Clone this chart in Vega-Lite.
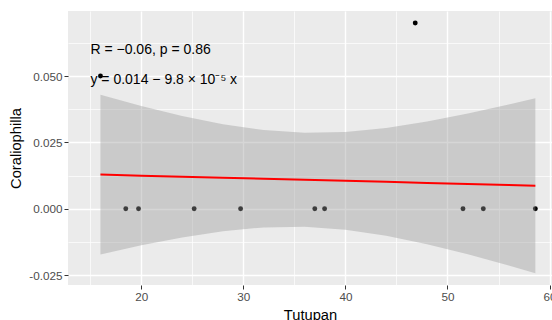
{
  "$schema": "https://vega.github.io/schema/vega-lite/v6.json",
  "width": 484,
  "height": 274,
  "autosize": {"type": "none"},
  "padding": {"left": 68, "top": 11, "right": 0, "bottom": 35},
  "background": "white",
  "config": {
    "view": {"fill": "#EBEBEB", "stroke": null},
    "font": "Liberation Sans",
    "text": {"font": "Liberation Sans"}
  },
  "datasets": {
    "pts": [
      {"Tutupan": 16.0, "Coraliophilla": 0.05},
      {"Tutupan": 18.48, "Coraliophilla": 0},
      {"Tutupan": 19.73, "Coraliophilla": 0},
      {"Tutupan": 25.18, "Coraliophilla": 0},
      {"Tutupan": 29.73, "Coraliophilla": 0},
      {"Tutupan": 37.0, "Coraliophilla": 0},
      {"Tutupan": 37.96, "Coraliophilla": 0},
      {"Tutupan": 46.84, "Coraliophilla": 0.07},
      {"Tutupan": 51.52, "Coraliophilla": 0},
      {"Tutupan": 53.51, "Coraliophilla": 0},
      {"Tutupan": 58.61, "Coraliophilla": 0}
    ],
    "band": [
      {"Tutupan": 16.0, "fit": 0.01286, "lo": -0.01721, "hi": 0.04293},
      {"Tutupan": 20.0, "fit": 0.01246, "lo": -0.01381, "hi": 0.03873},
      {"Tutupan": 24.0, "fit": 0.01207, "lo": -0.01083, "hi": 0.03497},
      {"Tutupan": 28.0, "fit": 0.01168, "lo": -0.00848, "hi": 0.03184},
      {"Tutupan": 32.0, "fit": 0.01129, "lo": -0.00704, "hi": 0.02962},
      {"Tutupan": 36.0, "fit": 0.0109, "lo": -0.00681, "hi": 0.02861},
      {"Tutupan": 40.0, "fit": 0.01051, "lo": -0.00791, "hi": 0.02893},
      {"Tutupan": 44.0, "fit": 0.01012, "lo": -0.01019, "hi": 0.03043},
      {"Tutupan": 48.0, "fit": 0.00973, "lo": -0.01337, "hi": 0.03283},
      {"Tutupan": 52.0, "fit": 0.00933, "lo": -0.01718, "hi": 0.03584},
      {"Tutupan": 56.0, "fit": 0.00894, "lo": -0.02138, "hi": 0.03926},
      {"Tutupan": 58.61, "fit": 0.00869, "lo": -0.02428, "hi": 0.04166}
    ],
    "labels": [
      {"Tutupan": 15.02, "Coraliophilla": 0.0598, "label": "R = −0.06, p = 0.86"},
      {"Tutupan": 15.02, "Coraliophilla": 0.0485, "label": "y = 0.014 − 9.8 × 10⁻⁵ x"}
    ]
  },
  "layer": [
    {
      "data": {"name": "pts"},
      "mark": {"type": "circle", "size": 24, "opacity": 1, "color": "black"},
      "encoding": {
        "x": {
          "field": "Tutupan", "type": "quantitative",
          "scale": {"domain": [12.82, 60.24], "nice": false, "zero": false},
          "axis": {
            "orient": "bottom", "values": [20, 30, 40, 50, 60],
            "grid": true, "gridColor": "white", "gridWidth": 1.4,
            "domain": false, "tickColor": "#333333", "tickSize": 4, "tickWidth": 1,
            "labelColor": "#4D4D4D", "labelFontSize": 11.7, "labelPadding": 2,
            "title": "Tutupan", "titleFontSize": 14.7, "titleFontWeight": "normal",
            "titleColor": "black", "titlePadding": 5
          }
        },
        "y": {
          "field": "Coraliophilla", "type": "quantitative",
          "scale": {"domain": [-0.02875, 0.0745], "nice": false, "zero": false},
          "axis": {
            "orient": "left", "values": [-0.025, 0, 0.025, 0.05],
            "labelExpr": "replace(format(datum.value, '.3f'), '−', '-')",
            "grid": true, "gridColor": "white", "gridWidth": 1.4,
            "domain": false, "tickColor": "#333333", "tickSize": 4, "tickWidth": 1,
            "labelColor": "#4D4D4D", "labelFontSize": 11.7, "labelPadding": 2,
            "title": "Coraliophilla", "titleFontSize": 14.7, "titleFontWeight": "normal",
            "titleColor": "black", "titlePadding": 5
          }
        }
      }
    },
    {
      "data": {"name": "band"},
      "mark": {"type": "area", "color": "#999999", "opacity": 0.4},
      "encoding": {
        "x": {
          "field": "Tutupan", "type": "quantitative",
          "scale": {"domain": [12.82, 60.24], "nice": false, "zero": false},
          "axis": {
            "orient": "top", "values": [15, 25, 35, 45, 55],
            "grid": true, "gridColor": "white", "gridWidth": 0.7,
            "domain": false, "ticks": false, "labels": false, "title": null
          }
        },
        "y": {
          "field": "lo", "type": "quantitative",
          "scale": {"domain": [-0.02875, 0.0745], "nice": false, "zero": false},
          "axis": {
            "orient": "right", "values": [-0.0125, 0.0125, 0.0375, 0.0625],
            "grid": true, "gridColor": "white", "gridWidth": 0.7,
            "domain": false, "ticks": false, "labels": false, "title": null
          }
        },
        "y2": {"field": "hi"}
      }
    },
    {
      "data": {"name": "band"},
      "mark": {"type": "line", "color": "red", "strokeWidth": 2},
      "encoding": {
        "x": {"field": "Tutupan", "type": "quantitative", "scale": {"domain": [12.82, 60.24], "nice": false, "zero": false}, "axis": null},
        "y": {"field": "fit", "type": "quantitative", "scale": {"domain": [-0.02875, 0.0745], "nice": false, "zero": false}, "axis": null}
      }
    },
    {
      "data": {"name": "labels"},
      "mark": {"type": "text", "align": "left", "baseline": "middle", "fontSize": 14, "color": "black"},
      "encoding": {
        "x": {"field": "Tutupan", "type": "quantitative", "scale": {"domain": [12.82, 60.24], "nice": false, "zero": false}, "axis": null},
        "y": {"field": "Coraliophilla", "type": "quantitative", "scale": {"domain": [-0.02875, 0.0745], "nice": false, "zero": false}, "axis": null},
        "text": {"field": "label"}
      }
    }
  ],
  "resolve": {"axis": {"x": "independent", "y": "independent"}}
}
